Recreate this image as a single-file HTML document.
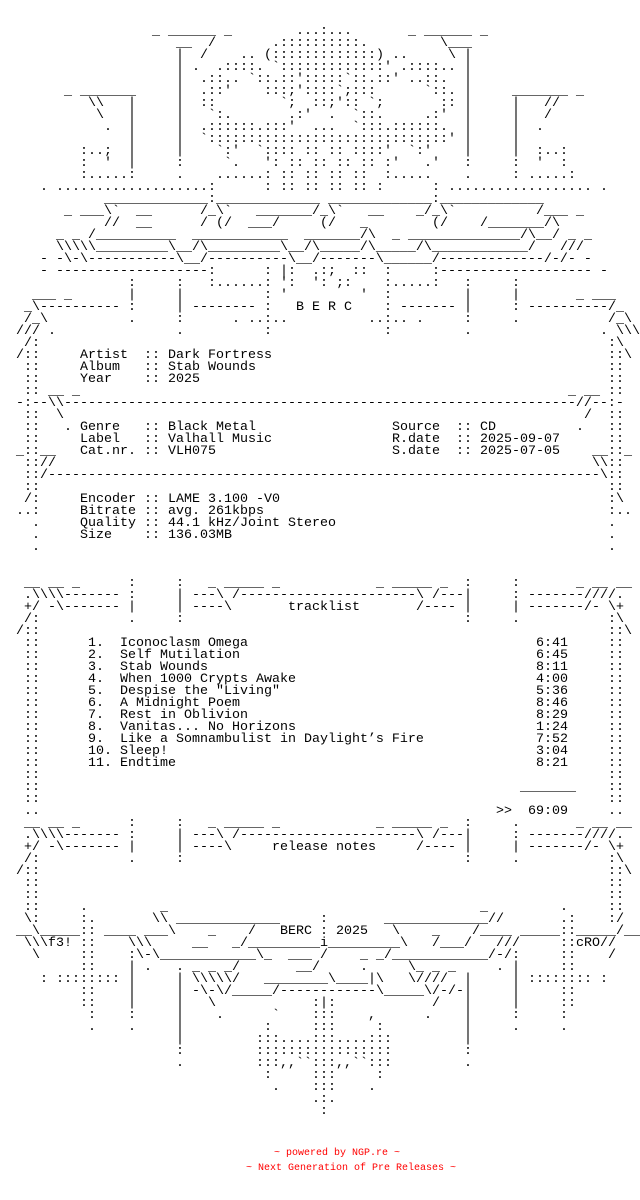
<!DOCTYPE html>
<html><head><meta charset="utf-8">
<style>
html,body{margin:0;padding:0;background:#fff}
body{width:640px;height:1200px;position:relative;overflow:hidden}
.r{position:absolute;left:0;width:640px;height:12px}
.r b{position:absolute;top:0;font-weight:normal;font-family:"Liberation Mono",monospace;font-size:13.333px;line-height:12px;white-space:pre;color:#000}
.f{position:absolute;font-family:"Liberation Mono",monospace;font-size:10px;line-height:14px;white-space:pre;color:#f00}
</style></head><body>
<div class="r" style="top:26px"><b style="left:152px">_ ______ _</b><b style="left:296px">...:...</b><b style="left:408px">_ ______ _</b></div>
<div class="r" style="top:38px"><b style="left:176px">__  /</b><b style="left:272px">.::::::::::.</b><b style="left:440px">\___</b></div>
<div class="r" style="top:50px"><b style="left:176px">|  /</b><b style="left:240px">.. (:::::::::::::) ..</b><b style="left:448px">\ |</b></div>
<div class="r" style="top:62px"><b style="left:176px">| .</b><b style="left:216px">.::::. `:::::::::::::' .::::.</b><b style="left:448px">. |</b></div>
<div class="r" style="top:74px"><b style="left:176px">|</b><b style="left:200px">.::..</b><b style="left:248px">`::.::':::::`::.::'</b><b style="left:408px">..::.</b><b style="left:464px">|</b></div>
<div class="r" style="top:86px"><b style="left:64px">_ _______</b><b style="left:176px">|</b><b style="left:200px">.::'</b><b style="left:264px">:::;'::::`;:::</b><b style="left:424px">`::.</b><b style="left:464px">|</b><b style="left:512px">_______ _</b></div>
<div class="r" style="top:98px"><b style="left:88px">\\</b><b style="left:128px">|</b><b style="left:176px">|</b><b style="left:200px">::</b><b style="left:280px">`;  ::;':: `;</b><b style="left:440px">::</b><b style="left:464px">|</b><b style="left:512px">|</b><b style="left:544px">//</b></div>
<div class="r" style="top:110px"><b style="left:96px">\</b><b style="left:128px">|</b><b style="left:176px">|</b><b style="left:208px">`:.</b><b style="left:288px">.:'  .  `::.</b><b style="left:424px">.:'</b><b style="left:464px">|</b><b style="left:512px">|</b><b style="left:544px">/</b></div>
<div class="r" style="top:122px"><b style="left:104px">.</b><b style="left:128px">|</b><b style="left:176px">|</b><b style="left:200px">.::::::.:::'  ...  `:::.::::::.</b><b style="left:464px">|</b><b style="left:512px">|</b><b style="left:536px">.</b></div>
<div class="r" style="top:134px"><b style="left:128px">|</b><b style="left:176px">|</b><b style="left:200px">`::::::::::::::::::::::::::::::'</b><b style="left:464px">|</b><b style="left:512px">|</b></div>
<div class="r" style="top:146px"><b style="left:80px">:..;</b><b style="left:128px">|</b><b style="left:176px">|</b><b style="left:216px">`:'  `:::: :: :: ::::'  `:'</b><b style="left:464px">|</b><b style="left:512px">|</b><b style="left:536px">:..:</b></div>
<div class="r" style="top:158px"><b style="left:80px">:  '</b><b style="left:128px">|</b><b style="left:176px">:</b><b style="left:224px">`.   ': :: :: :: :: :'   .'</b><b style="left:464px">:</b><b style="left:512px">:</b><b style="left:536px">'  :</b></div>
<div class="r" style="top:170px"><b style="left:80px">:.....:</b><b style="left:176px">.</b><b style="left:216px">......:</b><b style="left:280px">:: :: :: ::</b><b style="left:384px">:.....</b><b style="left:464px">.</b><b style="left:512px">:</b><b style="left:528px">.....:</b></div>
<div class="r" style="top:182px"><b style="left:40px">. ...................:</b><b style="left:264px">: :: :: :: :: :</b><b style="left:432px">: .................. .</b></div>
<div class="r" style="top:194px"><b style="left:104px">_____________:_____________ _____________:_____________</b></div>
<div class="r" style="top:206px"><b style="left:64px">_ ___\`</b><b style="left:136px">__</b><b style="left:200px">/_\`</b><b style="left:256px">_______/_\`</b><b style="left:368px">__</b><b style="left:416px">_/_\`</b><b style="left:536px">/___ _</b></div>
<div class="r" style="top:218px"><b style="left:104px">//</b><b style="left:136px">__</b><b style="left:200px">/ (/</b><b style="left:248px">___/</b><b style="left:320px">(/</b><b style="left:360px">_</b><b style="left:432px">(/</b><b style="left:480px">/_______/\</b></div>
<div class="r" style="top:230px"><b style="left:56px">_ _ /__________</b><b style="left:192px">____________</b><b style="left:304px">_______/\</b><b style="left:392px">_ ______________/\__/ _ _</b></div>
<div class="r" style="top:242px"><b style="left:56px">\\\\\_________\__/\_________\__/\_____/\_____/\____________/</b><b style="left:560px">///</b></div>
<div class="r" style="top:254px"><b style="left:40px">- -\-\-----------\__/----------\__/-------\______/-------------/-/- -</b></div>
<div class="r" style="top:266px"><b style="left:40px">- -------------------:</b><b style="left:264px">:</b><b style="left:280px">|:  .:;  ::</b><b style="left:384px">:</b><b style="left:432px">:------------------- -</b></div>
<div class="r" style="top:278px"><b style="left:128px">:</b><b style="left:176px">:</b><b style="left:208px">:......:</b><b style="left:280px">':  ': ;:</b><b style="left:384px">:.....:</b><b style="left:464px">:</b><b style="left:512px">:</b></div>
<div class="r" style="top:290px"><b style="left:32px">___ _</b><b style="left:128px">|</b><b style="left:176px">|</b><b style="left:264px">:</b><b style="left:280px">'</b><b style="left:360px">'</b><b style="left:384px">:</b><b style="left:464px">|</b><b style="left:512px">|</b><b style="left:576px">_ ___</b></div>
<div class="r" style="top:302px"><b style="left:24px">_\----------</b><b style="left:128px">:</b><b style="left:176px">|</b><b style="left:192px">--------</b><b style="left:264px">:</b><b style="left:296px">B E R C</b><b style="left:384px">:</b><b style="left:400px">-------</b><b style="left:464px">|</b><b style="left:512px">:</b><b style="left:528px">----------/_</b></div>
<div class="r" style="top:314px"><b style="left:24px">/_\</b><b style="left:128px">.</b><b style="left:176px">:</b><b style="left:232px">. ..:..</b><b style="left:368px">..:.. .</b><b style="left:464px">:</b><b style="left:512px">.</b><b style="left:608px">/_\</b></div>
<div class="r" style="top:326px"><b style="left:16px">///</b><b style="left:48px">.</b><b style="left:176px">.</b><b style="left:264px">:</b><b style="left:384px">:</b><b style="left:464px">.</b><b style="left:600px">.</b><b style="left:616px">\\\</b></div>
<div class="r" style="top:338px"><b style="left:24px">/:</b><b style="left:608px">:\</b></div>
<div class="r" style="top:350px"><b style="left:16px">/::</b><b style="left:80px">Artist  :: Dark Fortress</b><b style="left:608px">::\</b></div>
<div class="r" style="top:362px"><b style="left:24px">::</b><b style="left:80px">Album   :: Stab Wounds</b><b style="left:608px">::</b></div>
<div class="r" style="top:374px"><b style="left:24px">::</b><b style="left:80px">Year    :: 2025</b><b style="left:608px">::</b></div>
<div class="r" style="top:386px"><b style="left:24px">::</b><b style="left:48px">__ _</b><b style="left:568px">_ __</b><b style="left:608px">::</b></div>
<div class="r" style="top:398px"><b style="left:16px">-:--\\----------------------------------------------------------------//--:-</b></div>
<div class="r" style="top:410px"><b style="left:24px">::</b><b style="left:56px">\</b><b style="left:584px">/</b><b style="left:608px">::</b></div>
<div class="r" style="top:422px"><b style="left:24px">::</b><b style="left:64px">. Genre   :: Black Metal</b><b style="left:392px">Source  :: CD</b><b style="left:576px">.</b><b style="left:608px">::</b></div>
<div class="r" style="top:434px"><b style="left:24px">::</b><b style="left:80px">Label   :: Valhall Music</b><b style="left:392px">R.date  :: 2025-09-07</b><b style="left:608px">::</b></div>
<div class="r" style="top:446px"><b style="left:16px">_::__</b><b style="left:80px">Cat.nr. :: VLH075</b><b style="left:392px">S.date  :: 2025-07-05</b><b style="left:592px">__::_</b></div>
<div class="r" style="top:458px"><b style="left:24px">:://</b><b style="left:592px">\\::</b></div>
<div class="r" style="top:470px"><b style="left:24px">::/---------------------------------------------------------------------\::</b></div>
<div class="r" style="top:482px"><b style="left:24px">::</b><b style="left:608px">::</b></div>
<div class="r" style="top:494px"><b style="left:24px">/:</b><b style="left:80px">Encoder :: LAME 3.100 -V0</b><b style="left:608px">:\</b></div>
<div class="r" style="top:506px"><b style="left:16px">..:</b><b style="left:80px">Bitrate :: avg. 261kbps</b><b style="left:608px">:..</b></div>
<div class="r" style="top:518px"><b style="left:32px">.</b><b style="left:80px">Quality :: 44.1 kHz/Joint Stereo</b><b style="left:608px">.</b></div>
<div class="r" style="top:530px"><b style="left:32px">.</b><b style="left:80px">Size    :: 136.03MB</b><b style="left:608px">.</b></div>
<div class="r" style="top:542px"><b style="left:32px">.</b><b style="left:608px">.</b></div>

<div class="r" style="top:578px"><b style="left:24px">__ __ _</b><b style="left:128px">:</b><b style="left:176px">:</b><b style="left:208px">_ _____ _</b><b style="left:376px">_ _____ _</b><b style="left:464px">:</b><b style="left:512px">:</b><b style="left:576px">_ __ __</b></div>
<div class="r" style="top:590px"><b style="left:24px">.\\\\-------</b><b style="left:128px">:</b><b style="left:176px">|</b><b style="left:192px">---\ /----------------------\ /---</b><b style="left:464px">|</b><b style="left:512px">:</b><b style="left:528px">-------////.</b></div>
<div class="r" style="top:602px"><b style="left:24px">+/ -\-------</b><b style="left:128px">|</b><b style="left:176px">|</b><b style="left:192px">----\</b><b style="left:288px">tracklist</b><b style="left:416px">/----</b><b style="left:464px">|</b><b style="left:512px">|</b><b style="left:528px">-------/- \+</b></div>
<div class="r" style="top:614px"><b style="left:24px">/:</b><b style="left:128px">.</b><b style="left:176px">:</b><b style="left:464px">:</b><b style="left:512px">.</b><b style="left:608px">:\</b></div>
<div class="r" style="top:626px"><b style="left:16px">/::</b><b style="left:608px">::\</b></div>
<div class="r" style="top:638px"><b style="left:24px">::</b><b style="left:88px">1.  Iconoclasm Omega</b><b style="left:536px">6:41</b><b style="left:608px">::</b></div>
<div class="r" style="top:650px"><b style="left:24px">::</b><b style="left:88px">2.  Self Mutilation</b><b style="left:536px">6:45</b><b style="left:608px">::</b></div>
<div class="r" style="top:662px"><b style="left:24px">::</b><b style="left:88px">3.  Stab Wounds</b><b style="left:536px">8:11</b><b style="left:608px">::</b></div>
<div class="r" style="top:674px"><b style="left:24px">::</b><b style="left:88px">4.  When 1000 Crypts Awake</b><b style="left:536px">4:00</b><b style="left:608px">::</b></div>
<div class="r" style="top:686px"><b style="left:24px">::</b><b style="left:88px">5.  Despise the "Living"</b><b style="left:536px">5:36</b><b style="left:608px">::</b></div>
<div class="r" style="top:698px"><b style="left:24px">::</b><b style="left:88px">6.  A Midnight Poem</b><b style="left:536px">8:46</b><b style="left:608px">::</b></div>
<div class="r" style="top:710px"><b style="left:24px">::</b><b style="left:88px">7.  Rest in Oblivion</b><b style="left:536px">8:29</b><b style="left:608px">::</b></div>
<div class="r" style="top:722px"><b style="left:24px">::</b><b style="left:88px">8.  Vanitas... No Horizons</b><b style="left:536px">1:24</b><b style="left:608px">::</b></div>
<div class="r" style="top:734px"><b style="left:24px">::</b><b style="left:88px">9.  Like a Somnambulist in Daylight’s Fire</b><b style="left:536px">7:52</b><b style="left:608px">::</b></div>
<div class="r" style="top:746px"><b style="left:24px">::</b><b style="left:88px">10. Sleep!</b><b style="left:536px">3:04</b><b style="left:608px">::</b></div>
<div class="r" style="top:758px"><b style="left:24px">::</b><b style="left:88px">11. Endtime</b><b style="left:536px">8:21</b><b style="left:608px">::</b></div>
<div class="r" style="top:770px"><b style="left:24px">::</b><b style="left:608px">::</b></div>
<div class="r" style="top:782px"><b style="left:24px">::</b><b style="left:520px">_______</b><b style="left:608px">::</b></div>
<div class="r" style="top:794px"><b style="left:24px">::</b><b style="left:608px">::</b></div>
<div class="r" style="top:806px"><b style="left:24px">..</b><b style="left:496px">&gt;&gt;  69:09</b><b style="left:608px">..</b></div>
<div class="r" style="top:818px"><b style="left:24px">__ __ _</b><b style="left:128px">:</b><b style="left:176px">:</b><b style="left:208px">_ _____ _</b><b style="left:376px">_ _____ _</b><b style="left:464px">:</b><b style="left:512px">.</b><b style="left:576px">_ __ __</b></div>
<div class="r" style="top:830px"><b style="left:24px">.\\\\-------</b><b style="left:128px">:</b><b style="left:176px">|</b><b style="left:192px">---\ /----------------------\ /---</b><b style="left:464px">|</b><b style="left:512px">:</b><b style="left:528px">-------////.</b></div>
<div class="r" style="top:842px"><b style="left:24px">+/ -\-------</b><b style="left:128px">|</b><b style="left:176px">|</b><b style="left:192px">----\</b><b style="left:272px">release notes</b><b style="left:416px">/----</b><b style="left:464px">|</b><b style="left:512px">|</b><b style="left:528px">-------/- \+</b></div>
<div class="r" style="top:854px"><b style="left:24px">/:</b><b style="left:128px">.</b><b style="left:176px">:</b><b style="left:464px">:</b><b style="left:512px">.</b><b style="left:608px">:\</b></div>
<div class="r" style="top:866px"><b style="left:16px">/::</b><b style="left:608px">::\</b></div>
<div class="r" style="top:878px"><b style="left:24px">::</b><b style="left:608px">::</b></div>
<div class="r" style="top:890px"><b style="left:24px">::</b><b style="left:608px">::</b></div>
<div class="r" style="top:902px"><b style="left:24px">::</b><b style="left:80px">.</b><b style="left:160px">_</b><b style="left:480px">_</b><b style="left:560px">.</b><b style="left:608px">::</b></div>
<div class="r" style="top:914px"><b style="left:24px">\:</b><b style="left:80px">:.</b><b style="left:152px">\\</b><b style="left:176px">_____________</b><b style="left:320px">:</b><b style="left:384px">_____________</b><b style="left:488px">//</b><b style="left:560px">.:</b><b style="left:608px">:/</b></div>
<div class="r" style="top:926px"><b style="left:16px">__\_____</b><b style="left:80px">::</b><b style="left:104px">____ ___\</b><b style="left:208px">_</b><b style="left:248px">/</b><b style="left:280px">BERC : 2025</b><b style="left:392px">\</b><b style="left:432px">_</b><b style="left:472px">/____ _____</b><b style="left:560px">::</b><b style="left:576px">_____/__</b></div>
<div class="r" style="top:938px"><b style="left:24px">\\\f3!</b><b style="left:80px">::</b><b style="left:128px">\\\</b><b style="left:192px">__</b><b style="left:232px">_/_________i_________\</b><b style="left:432px">/___/</b><b style="left:496px">///</b><b style="left:560px">::</b><b style="left:576px">cRO//</b></div>
<div class="r" style="top:950px"><b style="left:32px">\</b><b style="left:80px">::</b><b style="left:128px">:\-\____________\_</b><b style="left:288px">___</b><b style="left:320px">/</b><b style="left:360px">_</b><b style="left:376px">_/____________/-/:</b><b style="left:560px">::</b><b style="left:608px">/</b></div>
<div class="r" style="top:962px"><b style="left:80px">::</b><b style="left:128px">|</b><b style="left:144px">.</b><b style="left:176px">.</b><b style="left:192px">_ _ _/</b><b style="left:296px">__/</b><b style="left:360px">.</b><b style="left:408px">\_ _ _</b><b style="left:496px">.</b><b style="left:512px">|</b><b style="left:560px">::</b></div>
<div class="r" style="top:974px"><b style="left:40px">: ::::::::</b><b style="left:128px">|</b><b style="left:176px">|</b><b style="left:192px">\\\\\/</b><b style="left:264px">________\____|\</b><b style="left:408px">\////</b><b style="left:464px">|</b><b style="left:512px">|</b><b style="left:528px">:::::::: :</b></div>
<div class="r" style="top:986px"><b style="left:80px">::</b><b style="left:128px">|</b><b style="left:176px">|</b><b style="left:192px">-\-\/_____/------------\_____\/-/-</b><b style="left:464px">|</b><b style="left:512px">|</b><b style="left:560px">::</b></div>
<div class="r" style="top:998px"><b style="left:80px">::</b><b style="left:128px">|</b><b style="left:176px">|</b><b style="left:208px">\</b><b style="left:312px">:|:</b><b style="left:432px">/</b><b style="left:464px">|</b><b style="left:512px">|</b><b style="left:560px">::</b></div>
<div class="r" style="top:1010px"><b style="left:88px">:</b><b style="left:128px">:</b><b style="left:176px">|</b><b style="left:216px">.</b><b style="left:272px">`</b><b style="left:312px">:::</b><b style="left:368px">,</b><b style="left:424px">.</b><b style="left:464px">|</b><b style="left:512px">:</b><b style="left:560px">:</b></div>
<div class="r" style="top:1022px"><b style="left:88px">.</b><b style="left:128px">.</b><b style="left:176px">|</b><b style="left:264px">:</b><b style="left:312px">:::</b><b style="left:376px">:</b><b style="left:464px">|</b><b style="left:512px">.</b><b style="left:560px">.</b></div>
<div class="r" style="top:1034px"><b style="left:176px">|</b><b style="left:256px">:::....:::....:::</b><b style="left:464px">|</b></div>
<div class="r" style="top:1046px"><b style="left:176px">:</b><b style="left:256px">:::::::::::::::::</b><b style="left:464px">:</b></div>
<div class="r" style="top:1058px"><b style="left:176px">.</b><b style="left:256px">:::,,``:::,,``:::</b><b style="left:464px">.</b></div>
<div class="r" style="top:1070px"><b style="left:264px">:</b><b style="left:312px">:::</b><b style="left:376px">:</b></div>
<div class="r" style="top:1082px"><b style="left:272px">.</b><b style="left:312px">:::</b><b style="left:368px">.</b></div>
<div class="r" style="top:1094px"><b style="left:312px">.:.</b></div>
<div class="r" style="top:1106px"><b style="left:320px">:</b></div>

<div class="f" style="left:274px;top:1147px">~ powered by NGP.re ~</div>
<div class="f" style="left:246px;top:1162px">~ Next Generation of Pre Releases ~</div>
</body></html>
